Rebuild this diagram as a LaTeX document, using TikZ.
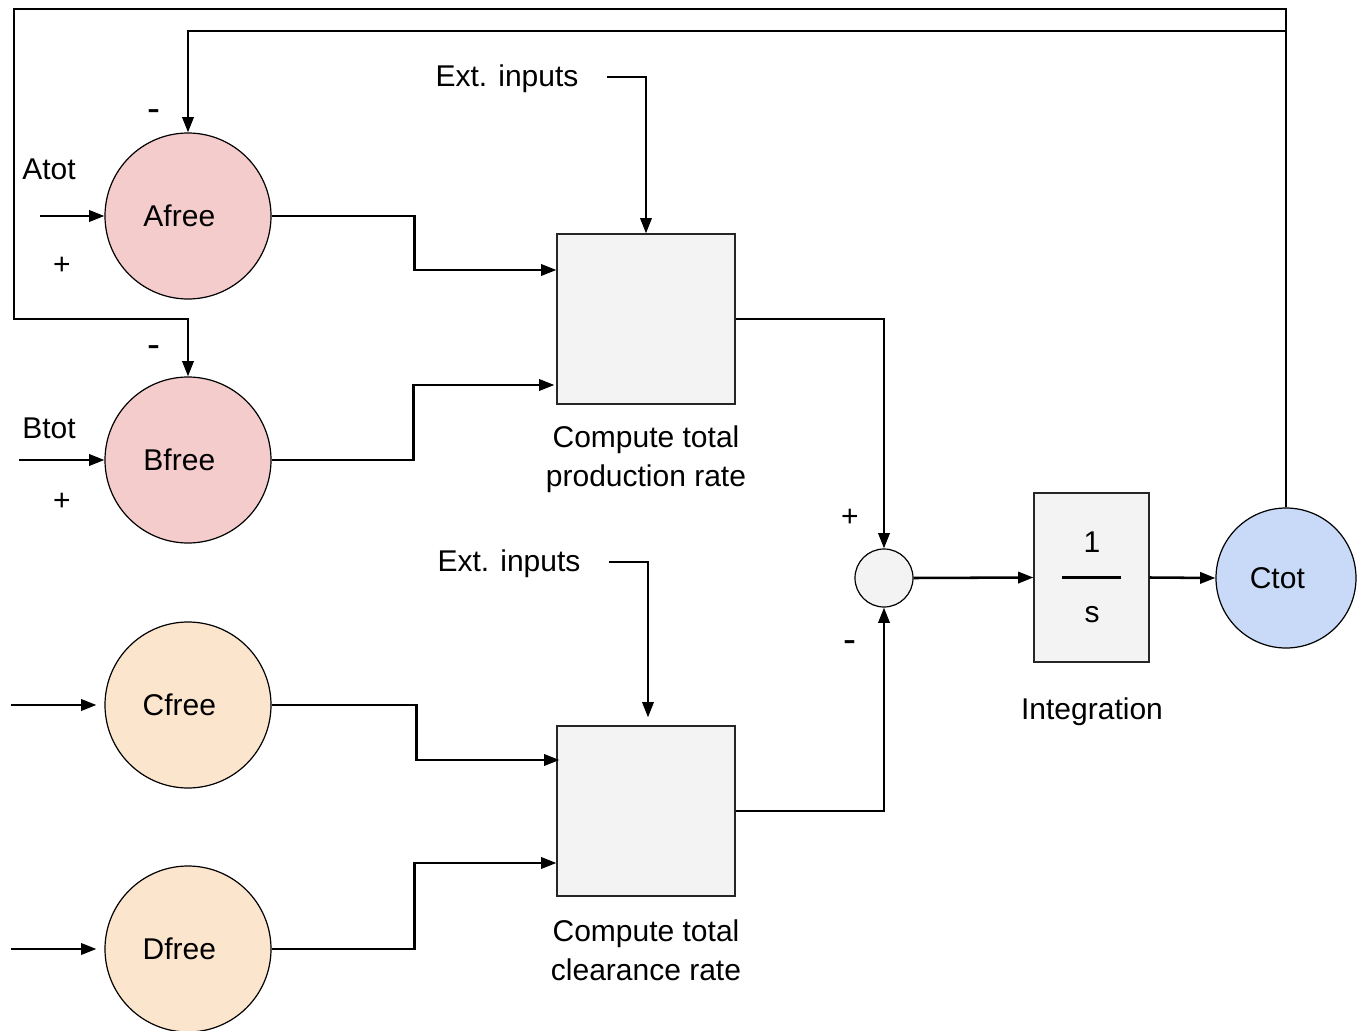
\documentclass[tikz,border=0pt]{standalone}
\usepackage{fontspec}
\setmainfont{Liberation Sans}
\usetikzlibrary{arrows.meta,calc}
\definecolor{afill}{HTML}{F4CCCC}
\definecolor{cfill}{HTML}{FCE5CD}
\definecolor{tfill}{HTML}{C9DAF8}
\definecolor{bfill}{HTML}{F3F3F3}
\begin{document}
\begin{tikzpicture}[x=0.75pt,y=-0.75pt,
  txt/.style={font=\fontsize{22.5}{29.25}\selectfont, inner sep=0pt, align=center},
  species/.style={circle, draw=black, line width=0.9pt, minimum size=124.5pt, inner sep=0pt},
  pooltext/.style={label={[txt, xshift=-6.5pt]center:#1}},
  block/.style={rectangle, draw=black!85, line width=0.9pt, fill=bfill, inner sep=0pt},
  wire/.style={line width=1.9pt, -{Triangle[length=11.5pt,width=8.5pt]}},
  plain/.style={line width=1.9pt}]
\useasboundingbox (0,0) rectangle (1361,1031);
\clip (0,0) rectangle (1361,1031);

% species pools
\node[species, fill=afill, pooltext=Afree] (A) at (188,216) {};
\node[species, fill=afill, pooltext=Bfree] (B) at (188,460) {};
\node[species, fill=cfill, pooltext=Cfree] (C) at (188,705) {};
\node[species, fill=cfill, pooltext=Dfree] (D) at (188,949) {};
\node[species, fill=tfill, minimum size=105pt, pooltext=Ctot] (ctot) at (1286,578) {};

% processing blocks
\node[block, minimum width=133.5pt, minimum height=127.5pt] (prod) at (646,319) {};
\node[block, minimum width=133.5pt, minimum height=127.5pt] (clr) at (646,811) {};
\node[block, minimum width=86.25pt, minimum height=126.75pt] (integ) at (1091.5,577.5) {};
\node[circle, draw=black, line width=0.9pt, fill=bfill, minimum size=43.5pt, inner sep=0pt] (sum) at (884,578) {};

% integrator transfer function 1/s
\node[txt] (num) at (1092,542) {1};
\node[txt] (den) at (1092,615) {s};
\draw[plain] ($(integ.center)+(-29.5,0)$) -- ($(integ.center)+(29.5,0)$);

% block captions
\node[txt] (prodlbl) at (646,459) {Compute total\\production rate};
\node[txt] (clrlbl) at (646,950) {Compute total\\clearance rate};
\node[txt] (intlbl) at (1092,712) {Integration};
\node[txt] (ext1) at (507,79) {Ext. inputs};
\node[txt] (ext2) at (509,564) {Ext. inputs};

% signs and input names
\node[txt] (atot) at (49,169) {Atot};
\node[txt] (btot) at (49,428) {Btot};
\node[txt] (pA) at (62,266) {+};
\node[txt, scale=1.3] (mA) at (154,116) {-};
\node[txt] (pB) at (62,502) {+};
\node[txt, scale=1.3] (mB) at (154,352) {-};
\node[txt] (pS) at (850,518) {+};
\node[txt, scale=1.3] (mS) at (850,647) {-};

% free ends of connectors
\coordinate (inA) at (40,216);
\coordinate (inB) at (19,460);
\coordinate (inC) at (11,705);
\coordinate (inD) at (11,949);
\coordinate (e1) at (607,77);
\coordinate (e2) at (609,562);
\coordinate (fbA) at (188,31);
\coordinate (fbTR) at (1286,9);
\coordinate (fbL) at (14,319);

% inputs
\draw[wire] (inA) -- (A.west);
\draw[wire] (inB) -- (B.west);
\draw[wire, shorten >=6pt] (inC) -- (C.west);
\draw[wire, shorten >=6pt] (inD) -- (D.west);
\draw[wire] (e1) -| (prod.north);
\draw[wire, shorten >=6pt] (e2) -| ($(clr.north)+(2,0)$);

% pools into rate blocks
\draw[wire] (A.east) -- ++(143,0) |- ($(prod.west)+(0,-49)$);
\draw[wire] (B.east) -- ++(142,0) |- ($(prod.west)+(-2,66)$);
\draw[wire] (C.east) -- ++(145,0) |- ($(clr.west)+(3,-51)$);
\draw[wire] (D.east) -- ++(143,0) |- ($(clr.west)+(0,52)$);

% rates into the summing junction and integrator
\draw[wire] (prod.east) -| (sum.north);
\draw[wire] (clr.east) -| (sum.south);
\draw[wire] (sum.east) -- (integ.west);
\draw[wire] (integ.east) -- (ctot.west);

% feedback of Ctot to the free pools
\draw[wire] (ctot.north) |- (fbA) -- (A.north);
\draw[wire] (ctot.north) -- (fbTR) -| (fbL) -| (B.north);
\end{tikzpicture}
\end{document}
